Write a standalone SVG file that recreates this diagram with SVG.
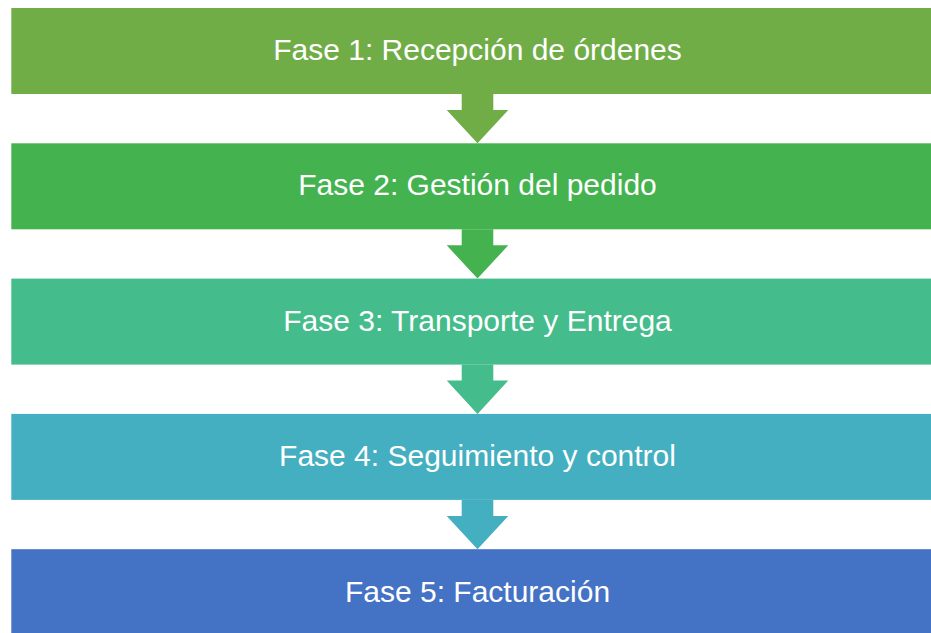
<svg xmlns="http://www.w3.org/2000/svg" width="931" height="633" viewBox="0 0 931 633">
<style>
.lbl{font-family:"Liberation Sans",Arial,sans-serif;font-size:30px;fill:#ffffff;text-anchor:middle}
</style>
<rect width="931" height="633" fill="#ffffff"/>
<g id="connectors">
<path d="M461.7,94 H493.3 V110 H508.3 L477.5,143.3 L446.7,110 H461.7 Z" fill="#70AD47"/>
<path d="M461.7,229.3 H493.3 V245.3 H508.3 L477.5,278.6 L446.7,245.3 H461.7 Z" fill="#44B34F"/>
<path d="M461.7,364.6 H493.3 V380.6 H508.3 L477.5,413.9 L446.7,380.6 H461.7 Z" fill="#45BC8B"/>
<path d="M461.7,499.9 H493.3 V515.9 H508.3 L477.5,549.2 L446.7,515.9 H461.7 Z" fill="#44AFC0"/>
</g>
<g id="fase1">
<rect x="11.3" y="8" width="934" height="86" fill="#70AD47"/>
<text class="lbl" x="477.5" y="60">Fase 1: Recepción de órdenes</text>
</g>
<g id="fase2">
<rect x="11.3" y="143.3" width="934" height="86" fill="#44B34F"/>
<text class="lbl" x="477.5" y="195.3">Fase 2: Gestión del pedido</text>
</g>
<g id="fase3">
<rect x="11.3" y="278.6" width="934" height="86" fill="#45BC8B"/>
<text class="lbl" x="477.5" y="330.6">Fase 3: Transporte y Entrega</text>
</g>
<g id="fase4">
<rect x="11.3" y="413.9" width="934" height="86" fill="#44AFC0"/>
<text class="lbl" x="477.5" y="465.9">Fase 4: Seguimiento y control</text>
</g>
<g id="fase5">
<rect x="11.3" y="549.2" width="934" height="86" fill="#4472C4"/>
<text class="lbl" x="477.5" y="601.5">Fase 5: Facturación</text>
</g>
</svg>
